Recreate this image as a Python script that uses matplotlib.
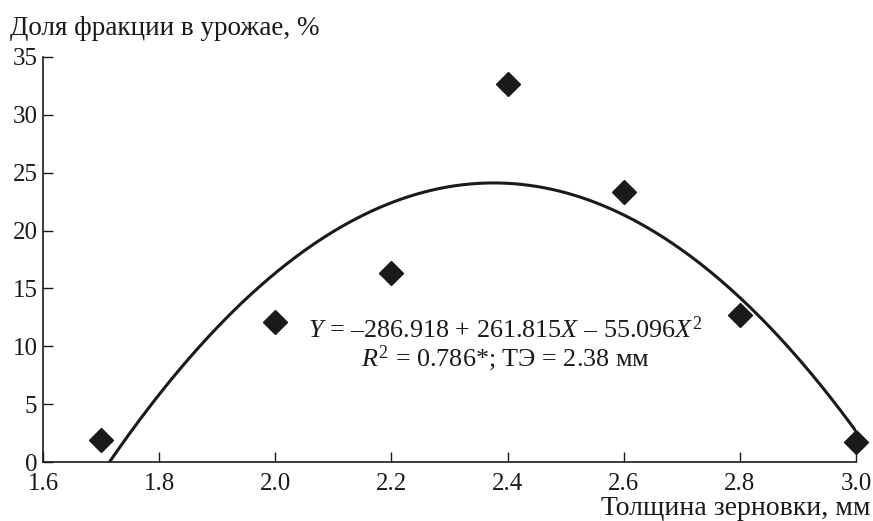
import numpy as np
import matplotlib.pyplot as plt

# grain thickness, mm and share of fraction in yield, %
thickness = [1.7, 2.0, 2.2, 2.4, 2.6, 2.8, 3.0]
share = [1.9, 12.1, 16.3, 32.7, 23.3, 12.7, 1.7]

# quadratic fit Y = a + bX + cX^2 (as printed on the chart)
fit_coef = [-286.918, 261.815, -55.096]
fit_end = 3.0

x_ticks = [1.6, 1.8, 2.0, 2.2, 2.4, 2.6, 2.8, 3.0]
y_ticks = [0, 5, 10, 15, 20, 25, 30, 35]


def main():
    plt.rcParams['font.family'] = ['Liberation Serif', 'DejaVu Serif']
    plt.rcParams['mathtext.fontset'] = 'custom'
    plt.rcParams['mathtext.it'] = 'Liberation Serif:italic'
    plt.rcParams['mathtext.rm'] = 'Liberation Serif'

    fig = plt.figure(figsize=(8.73, 5.21), dpi=100)
    ax = fig.add_axes([0.0493, 0.1132, 0.9312, 0.7774])

    # curve from where the fit crosses zero up to the last point
    roots = np.roots(fit_coef[::-1])
    x0 = min(r.real for r in roots if r.real > 0)
    xs = np.linspace(x0, fit_end, 300)
    ys = fit_coef[0] + fit_coef[1] * xs + fit_coef[2] * xs ** 2
    ax.plot(xs, ys, color='#1a1a1a', lw=2.2)
    ax.plot(thickness, share, 'D', color='#1a1a1a', markersize=12.5,
            clip_on=False, zorder=5)

    ax.set_xlim(1.6, 3.0)
    ax.set_ylim(0, 35)
    ax.set_xticks(x_ticks)
    ax.set_xticklabels(['%.1f' % v for v in x_ticks])
    ax.set_yticks(y_ticks)
    ax.tick_params(direction='in', length=7, width=1, labelsize=18, pad=4,
                   colors='#1a1a1a')
    ax.tick_params(axis='x', pad=8)
    for s in ['top', 'right']:
        ax.spines[s].set_visible(False)
    for s in ['left', 'bottom']:
        ax.spines[s].set_linewidth(1.2)
        ax.spines[s].set_color('#1a1a1a')

    fig.text(0.011, 0.933, 'Доля фракции в урожае, %', fontsize=19.5,
             ha='left', va='baseline', color='#1a1a1a')
    fig.text(0.997, 0.012, 'Толщина зерновки, мм', fontsize=20,
             ha='right', va='baseline', color='#1a1a1a')

    ax.text(2.396, 11.4, r'$Y$ = –286.918 + 261.815$X$ – 55.096$X^2$',
            fontsize=18.8, ha='center', va='center', color='#1a1a1a')
    ax.text(2.396, 9.0, r'$R^2$ = 0.786*; ТЭ = 2.38 мм',
            fontsize=18.8, ha='center', va='center', color='#1a1a1a')

    fig.savefig('out.png', dpi=100)


if __name__ == '__main__':
    main()
